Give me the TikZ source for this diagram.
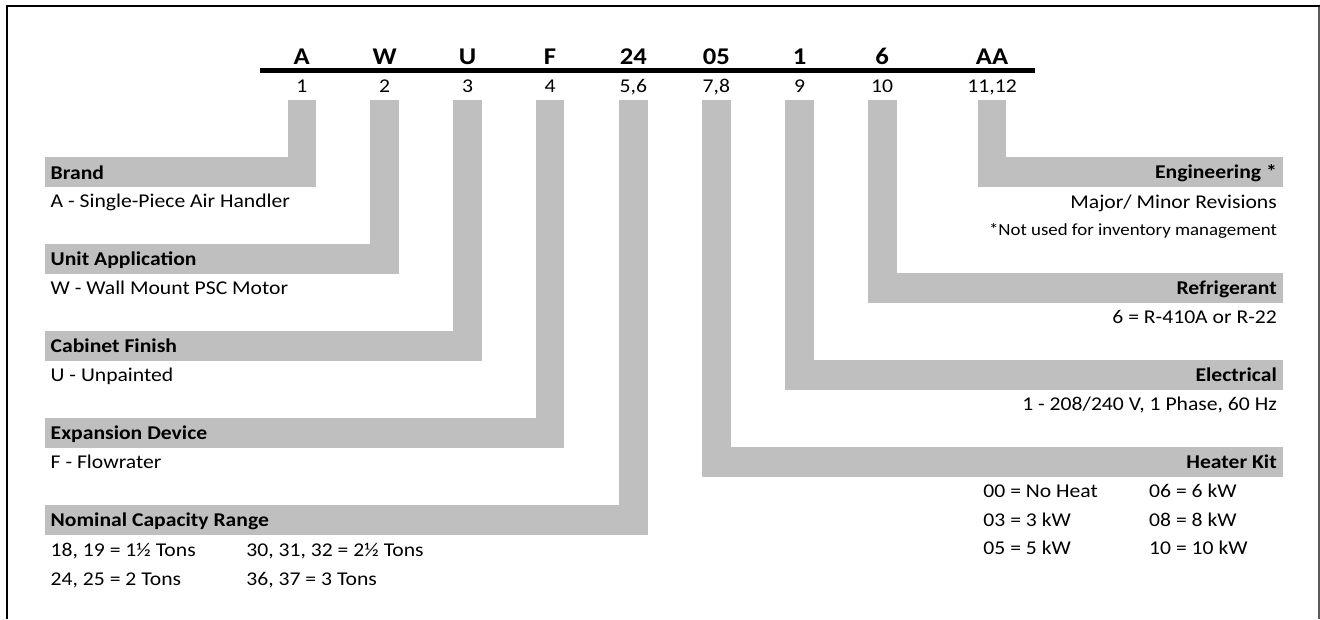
\documentclass[tikz,border=0pt]{standalone}
\usepackage{fontspec}
\setmainfont{Carlito}[FakeStretch=1.11]
\definecolor{bandgray}{RGB}{191,191,191}
\definecolor{rimgray}{RGB}{90,90,90}
\begin{document}
\begin{tikzpicture}[x=1pt,y=-1pt,
  hdr/.style={inner sep=0, anchor=base, font=\fontsize{24}{28}\selectfont\bfseries},
  idx/.style={inner sep=0, anchor=base, font=\fontsize{19.5}{23}\selectfont},
  ttl/.style={inner sep=0, font=\fontsize{19.5}{23}\selectfont\bfseries},
  val/.style={inner sep=0, font=\fontsize{19.5}{23}\selectfont},
  note/.style={inner sep=0, font=\fontsize{17}{20}\selectfont},
  fillband/.style={fill=bandgray, draw=none},
  barline/.style={line width=4.5pt, black},
  rim/.style={line width=2.3pt, black},
  rimthin/.style={line width=1.5pt, rimgray}]
\useasboundingbox (0,0) rectangle (1320,619);
% frame
\coordinate (fTL) at (6.8,5.8);
\coordinate (fTR) at (1320,5.8);
\coordinate (fBL) at (6.8,619);
\coordinate (fRT) at (1319,5.8);
\coordinate (fRB) at (1319,619);
\draw[rimthin] (fRT) -- (fRB);
\draw[rim] (fBL) -- (fTL) -- (fTR);
% header bar
\coordinate (barL) at (260,70.5);
\coordinate (barR) at (1034.6,70.5);
\draw[barline] (barL) -- (barR);
% header letters and indices
\node[hdr] (h1) at (301.8,64) {A};
\node[hdr] (h2) at (384.7,64) {W};
\node[hdr] (h3) at (467.6,64) {U};
\node[hdr] (h4) at (550.1,64) {F};
\node[hdr] (h5) at (633.4,64) {24};
\node[hdr] (h6) at (716.4,64) {05};
\node[hdr] (h7) at (799.7,64) {1};
\node[hdr] (h8) at (882.2,64) {6};
\node[hdr] (h9) at (992.1,64) {AA};
\node[idx] (i1) at (301.8,92.3) {1};
\node[idx] (i2) at (384.7,92.3) {2};
\node[idx] (i3) at (467.6,92.3) {3};
\node[idx] (i4) at (550.1,92.3) {4};
\node[idx] (i5) at (633.4,92.3) {5,6};
\node[idx] (i6) at (716.4,92.3) {7,8};
\node[idx] (i7) at (799.7,92.3) {9};
\node[idx] (i8) at (882.2,92.3) {10};
\node[idx] (i9) at (992.1,92.3) {11,12};
% left L-shaped bands
\fill[fillband] (287.5,100) rectangle (316.1,187);
\fill[fillband] (45,157) rectangle (316.1,187);
\fill[fillband] (370.4,100) rectangle (399,274);
\fill[fillband] (45,244) rectangle (399,274);
\fill[fillband] (453.3,100) rectangle (481.9,361);
\fill[fillband] (45,331) rectangle (481.9,361);
\fill[fillband] (535.8,100) rectangle (564.4,448);
\fill[fillband] (45,418) rectangle (564.4,448);
\fill[fillband] (619.1,100) rectangle (647.7,535);
\fill[fillband] (45,505) rectangle (647.7,535);
% right L-shaped bands
\fill[fillband] (977.8,100) rectangle (1006.4,187);
\fill[fillband] (977.8,157) rectangle (1283,187);
\fill[fillband] (867.9,100) rectangle (896.5,303);
\fill[fillband] (867.9,273) rectangle (1283,303);
\fill[fillband] (785.4,100) rectangle (814,390);
\fill[fillband] (785.4,360) rectangle (1283,390);
\fill[fillband] (702.1,100) rectangle (730.7,477);
\fill[fillband] (702.1,447) rectangle (1283,477);
% left texts
\node[ttl, anchor=base west] (tBrand) at (50.5,179) {Brand};
\node[val, anchor=base west] (vBrand) at (50.5,207.5) {A - Single-Piece Air Handler};
\node[ttl, anchor=base west] (tUnit) at (50.5,265.5) {Unit Application};
\node[val, anchor=base west] (vUnit) at (50.5,294.3) {W - Wall Mount PSC Motor};
\node[ttl, anchor=base west] (tCab) at (50.5,352) {Cabinet Finish};
\node[val, anchor=base west] (vCab) at (50.5,381) {U - Unpainted};
\node[ttl, anchor=base west] (tExp) at (50.5,439.3) {Expansion Device};
\node[val, anchor=base west] (vExp) at (50.5,468.3) {F - Flowrater};
\node[ttl, anchor=base west] (tNom) at (50.5,526) {Nominal Capacity Range};
\node[val, anchor=base west] (vNom1) at (50.5,556) {18, 19 = 1½ Tons};
\node[val, anchor=base west] (vNom2) at (246.2,556) {30, 31, 32 = 2½ Tons};
\node[val, anchor=base west] (vNom3) at (50.5,585) {24, 25 = 2 Tons};
\node[val, anchor=base west] (vNom4) at (246.2,585) {36, 37 = 3 Tons};
% right texts
\node[ttl, anchor=base east] (tEng) at (1277,178.5) {Engineering *};
\node[val, anchor=base east] (vEng) at (1277,208.3) {Major/ Minor Revisions};
\node[note, anchor=base east] (nEng) at (1277,235) {*Not used for inventory management};
\node[ttl, anchor=base east] (tRef) at (1277,294.5) {Refrigerant};
\node[val, anchor=base east] (vRef) at (1277,323.3) {6 = R-410A or R-22};
\node[ttl, anchor=base east] (tEle) at (1277,381) {Electrical};
\node[val, anchor=base east] (vEle) at (1277,410) {1 - 208/240 V, 1 Phase, 60 Hz};
\node[ttl, anchor=base east] (tHeat) at (1277,468.3) {Heater Kit};
\node[val, anchor=base west] (vH1) at (983.2,497) {00 = No Heat};
\node[val, anchor=base west] (vH2) at (1149,497) {06 = 6 kW};
\node[val, anchor=base west] (vH3) at (983.2,526) {03 = 3 kW};
\node[val, anchor=base west] (vH4) at (1149,526) {08 = 8 kW};
\node[val, anchor=base west] (vH5) at (983.2,554.5) {05 = 5 kW};
\node[val, anchor=base west] (vH6) at (1149,554.5) {10 = 10 kW};
\end{tikzpicture}
\end{document}
